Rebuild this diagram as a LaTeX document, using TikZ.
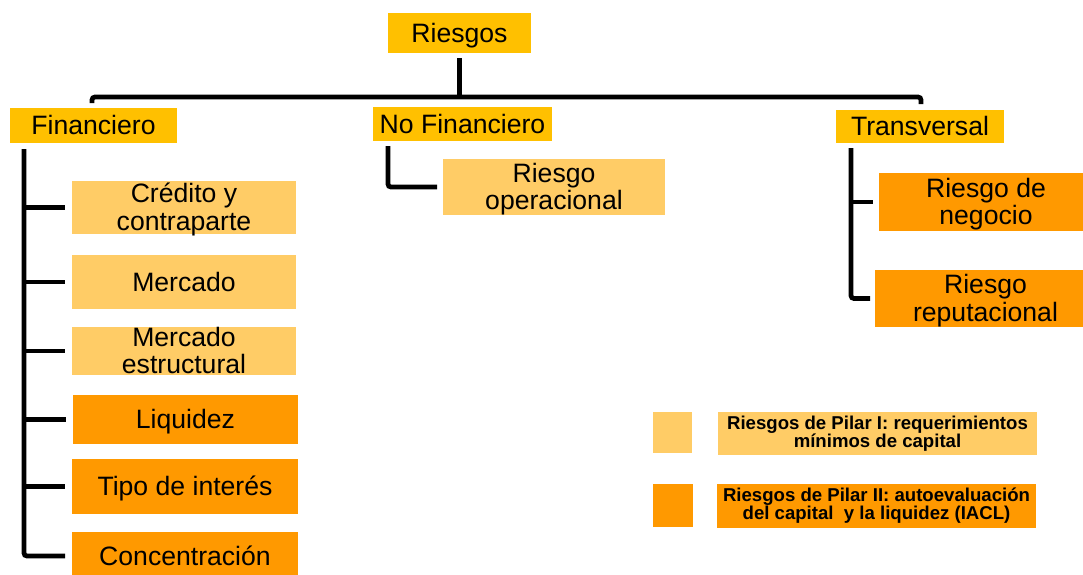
\documentclass[tikz,border=0pt]{standalone}
\usepackage{fontspec}
\setmainfont{Liberation Sans}
\definecolor{gold}{HTML}{FFC000}
\definecolor{lightor}{HTML}{FFCC66}
\definecolor{darkor}{HTML}{FF9900}
\begin{document}
\begin{tikzpicture}[x=0.5pt,y=-0.5pt,
 box/.style={inner sep=0pt, outer sep=0pt, align=center, font=\fontsize{13.3}{13.8}\selectfont, text=black, text depth=0.5pt},
 head/.style={box, fill=gold},
 pone/.style={box, fill=lightor},
 ptwo/.style={box, fill=darkor},
 legtext/.style={inner sep=0pt, outer sep=0pt, align=center, font=\fontsize{9.3}{9.1}\selectfont\bfseries, text=black},
 conn/.style={line width=2.4pt, draw=black, rounded corners=1.5pt}]
\clip (0,0) rectangle (1083,574);
% heads
\node[head, minimum width=71.5pt, minimum height=20pt] (R) at (459.5,33) {Riesgos};
\node[head, minimum width=83.5pt, minimum height=17.5pt] (Fin) at (93.5,125.5) {Financiero};
\node[head, minimum width=89.5pt, minimum height=17pt] (NF) at (462.5,124) {No Financiero};
\node[head, minimum width=84pt, minimum height=16.5pt] (Tr) at (920,126.5) {Transversal};
% financiero children
\node[pone, minimum width=112pt, minimum height=26.5pt] (crd) at (184,207.5) {Crédito y\\contraparte};
\node[pone, minimum width=112pt, minimum height=27pt] (mer) at (184,282) {Mercado};
\node[pone, minimum width=112pt, minimum height=24pt] (mes) at (184,351) {Mercado\\estructural};
\node[ptwo, minimum width=112.5pt, minimum height=24.5pt] (liq) at (185.5,419.5) {Liquidez};
\node[ptwo, minimum width=113pt, minimum height=27.5pt] (tip) at (185,486.5) {Tipo de interés};
\node[ptwo, minimum width=113pt, minimum height=24pt] (con) at (185,556) {Concentración};
% no financiero child
\node[pone, minimum width=111pt, minimum height=28pt] (op) at (554,187) {Riesgo\\operacional};
% transversal children
\node[ptwo, minimum width=107pt, minimum height=29pt] (neg) at (986,202) {Riesgo de\\negocio};
\node[ptwo, minimum width=110.5pt, minimum height=28.5pt] (rep) at (985.5,298.5) {Riesgo\\reputacional};
% legend
\node[box, fill=lightor, minimum width=19.5pt, minimum height=20.5pt] (sq1) at (672.5,432) {};
\node[box, fill=darkor, minimum width=20pt, minimum height=21.5pt] (sq2) at (672.5,505.5) {};
\node[legtext, fill=lightor, minimum width=159.5pt, minimum height=21.5pt] (lg1) at (877.5,433.5) {Riesgos de Pilar I: requerimientos\\mínimos de capital};
\node[legtext, fill=darkor, minimum width=159.5pt, minimum height=22pt] (lg2) at (876.5,505.5) {Riesgos de Pilar II: autoevaluación\\del capital\ \ y la liquidez (IACL)};
% connectors
\coordinate (barL) at (92,97);
\coordinate (barR) at (921,97);
\draw[conn] ([yshift=-2.5pt]R.south) -- (R.south |- barL);
\draw[conn] ([yshift=2.5pt]barL |- Fin.north) -- (barL) -- (barR) -- ([yshift=3pt]barR |- Tr.north);
\coordinate (fs) at (24,149);
\draw[conn] (fs) -- (fs |- con.west) -- ([xshift=-3.5pt]con.west);
\foreach \n in {crd,mer,mes,liq,tip}{
  \draw[conn] (fs |- \n.west) -- ([xshift=-3.5pt]\n.west);
}
\coordinate (nfs) at (388,146);
\draw[conn] (nfs) -- (nfs |- op.west) -- ([xshift=-3pt]op.west);
\coordinate (ts) at (851,148);
\draw[conn] (ts) -- (ts |- rep.west) -- ([xshift=-2.5pt]rep.west);
\draw[conn] (ts |- neg.west) -- ([xshift=-3pt]neg.west);
\end{tikzpicture}
\end{document}
